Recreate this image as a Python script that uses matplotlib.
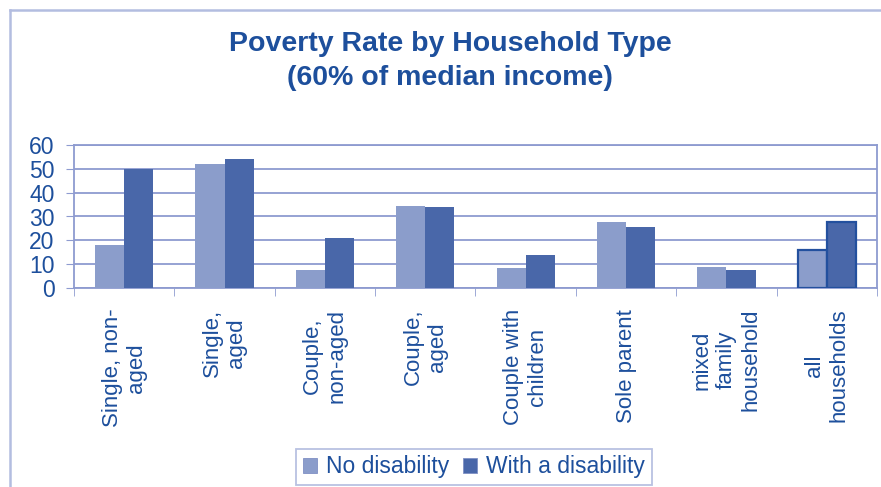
import numpy as np
import matplotlib.pyplot as plt
from matplotlib.lines import Line2D

plt.rcParams['font.family'] = ['Liberation Sans', 'DejaVu Sans']

# datos
categories = ['Single, non-\naged', 'Single,\naged', 'Couple,\nnon-aged', 'Couple,\naged',
              'Couple with\nchildren', 'Sole parent', 'mixed\nfamily\nhousehold', 'all\nhouseholds']
no_disability = [18, 52, 7.5, 34.5, 8.5, 27.5, 9, 16]
with_disability = [50, 54, 21, 34, 14, 25.5, 7.5, 27.5]
yticks = [0, 10, 20, 30, 40, 50, 60]

text_col = '#1d4f9c'
light_col = '#8b9dcb'
dark_col = '#4967a9'
grid_col = '#8e9bd0'

fig = plt.figure(figsize=(8.81, 4.87), dpi=100)
ax = fig.add_axes([74 / 881, 1 - 288 / 487, (877 - 74) / 881, (288 - 145) / 487])

x = np.arange(len(categories))
w = 0.29
b1 = ax.bar(x - w / 2, no_disability, w, color=light_col, label='No disability', zorder=3)
b2 = ax.bar(x + w / 2, with_disability, w, color=dark_col, label='With a disability', zorder=3)
# el ultimo grupo lleva borde oscuro
for bars in (b1, b2):
    bars[-1].set_edgecolor('#23509e')
    bars[-1].set_linewidth(1.6)

ax.set_ylim(0, 60)
ax.set_xlim(-0.5, len(categories) - 0.5)
ax.set_yticks(yticks)
ax.set_xticks(x)
ax.set_xticks(np.arange(-0.5, len(categories)), minor=True)
ax.set_xticklabels(categories, rotation=90, ha='center', va='top', multialignment='center')
ax.yaxis.grid(True, color=grid_col, lw=1.3, zorder=0)
ax.tick_params(axis='y', labelsize=16.5, labelcolor=text_col, color=grid_col, length=6, pad=8)
ax.tick_params(axis='x', which='major', length=0, labelsize=16, labelcolor=text_col, pad=15)
ax.tick_params(axis='x', which='minor', length=6, color=grid_col)
for s in ax.spines.values():
    s.set_color(grid_col)
    s.set_linewidth(1.3)

fig.text(450 / 881, 1 - 31 / 487, 'Poverty Rate by Household Type\n(60% of median income)',
         ha='center', va='top', fontsize=20.5, fontweight='bold', color=text_col, linespacing=1.38)

leg = fig.legend(loc='center', bbox_to_anchor=(474 / 881, 1 - 467 / 487), ncol=2, fontsize=16.5,
                 frameon=True, fancybox=False, handlelength=0.6, handleheight=0.6,
                 handletextpad=0.4, columnspacing=0.6, borderpad=0.3, labelcolor=text_col)
leg.get_frame().set_edgecolor('#a7b2da')
leg.get_frame().set_linewidth(1.3)
for h in leg.legend_handles:
    h.set_edgecolor('#7f90c4')
    h.set_linewidth(0.6)

# marco exterior
fig.add_artist(Line2D([10 / 881, 10 / 881], [0, 1 - 10 / 487], color='#b3bde0', lw=1.8, transform=fig.transFigure))
fig.add_artist(Line2D([10 / 881, 1], [1 - 10 / 487, 1 - 10 / 487], color='#b3bde0', lw=1.8, transform=fig.transFigure))

fig.savefig('out.png', dpi=100)
